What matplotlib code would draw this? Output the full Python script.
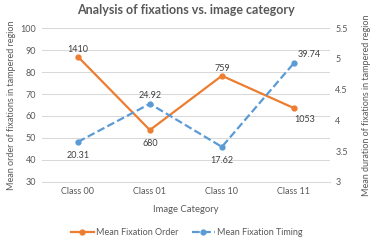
import matplotlib.pyplot as plt

categories = ["Class 00", "Class 01", "Class 10", "Class 11"]
fixation_order = [87.0, 53.6, 78.3, 63.6]
fixation_timing = [3.65, 4.27, 3.57, 4.93]
order_labels = ["1410", "680", "759", "1053"]
timing_labels = ["20.31", "24.92", "17.62", "39.74"]

plt.rcParams["font.family"] = ["Lato", "DejaVu Sans"]
gray = "#595959"
orange = "#ED7D31"
blue = "#5B9BD5"

fig = plt.figure(figsize=(3.74, 2.4), dpi=100)
ax = fig.add_axes([0.112, 0.242, 0.77, 0.641])
ax2 = ax.twinx()

x = list(range(len(categories)))
ax.plot(x, fixation_order, color=orange, lw=1.6, marker="o", ms=3.5,
        label="Mean Fixation Order", zorder=3)
ax2.plot(x, fixation_timing, color=blue, lw=1.6, ls=(0, (3.5, 1.5)), marker="o", ms=3.5,
         label="Mean Fixation Timing", zorder=3)

# data labels
order_off = [(0, 5), (0, -10), (0, 5), (8, -8)]
for xi, yi, t, (dx, dy) in zip(x, fixation_order, order_labels, order_off):
    ax.annotate(t, (xi, yi), xytext=(dx, dy), textcoords="offset points",
                ha="center", va="center", fontsize=6.5, color="#404040")
timing_off = [(0, -10), (0, 6), (0, -10), (11, 6)]
for xi, yi, t, (dx, dy) in zip(x, fixation_timing, timing_labels, timing_off):
    ax2.annotate(t, (xi, yi), xytext=(dx, dy), textcoords="offset points",
                 ha="center", va="center", fontsize=6.5, color="#404040")

ax.set_xlim(-0.5, 3.5)
ax.set_ylim(30, 100)
ax.set_yticks(range(30, 101, 10))
ax2.set_ylim(3, 5.5)
ax2.set_yticks([3, 3.5, 4, 4.5, 5, 5.5])
ax2.set_yticklabels(["3", "3.5", "4", "4.5", "5", "5.5"])
ax.set_xticks(x)
ax.set_xticklabels(categories)

ax.grid(axis="y", color="#D9D9D9", lw=0.75)
ax.set_axisbelow(True)
for a in (ax, ax2):
    for s in a.spines.values():
        s.set_visible(False)
    a.tick_params(length=0, labelsize=6.5, colors=gray, pad=4)
ax.spines["bottom"].set_visible(True)
ax.spines["bottom"].set_color("#D9D9D9")
ax.spines["bottom"].set_linewidth(0.75)

ax.set_xlabel("Image Category", fontsize=6.8, color=gray, labelpad=6)
ax.set_ylabel("Mean order of fixations in tampered region", fontsize=6.5, color=gray, labelpad=3)
ax2.set_ylabel("Mean duration of fixations in tampered region", fontsize=6.5, color=gray, labelpad=10)
ax.set_title("Analysis of fixations vs. image category", fontsize=9, fontweight="bold",
             color=gray, pad=10)

h1, l1 = ax.get_legend_handles_labels()
h2, l2 = ax2.get_legend_handles_labels()
fig.legend(h1 + h2, l1 + l2, loc="center", bbox_to_anchor=(0.5, 0.03), ncol=2,
           frameon=False, fontsize=6.5, labelcolor=gray, handlelength=2.5,
           columnspacing=1.5, handletextpad=0.3)

fig.savefig("out.png", dpi=100)
